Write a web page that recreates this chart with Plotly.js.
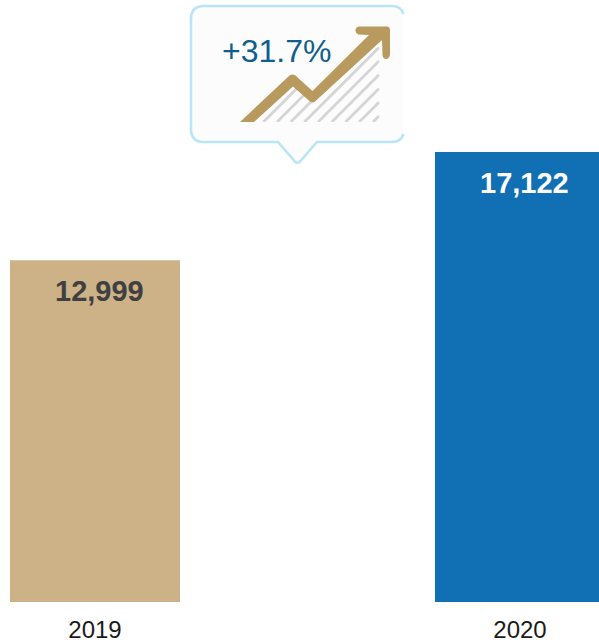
<!DOCTYPE html>
<html><head><meta charset="utf-8">
<script src="https://cdn.plot.ly/plotly-3.0.1.min.js"></script>
<style>html,body{margin:0;padding:0;background:#fff;overflow:hidden}</style>
</head><body><div id="chart" style="width:599px;height:643px"></div>
<script>
const categories = ['2019', '2020'];
const values = [12999, 17122];
const valueLabels = ['12,999', '17,122'];
const barColors = ['#cdb187', '#116fb4'];
const labelColors = ['#404040', '#ffffff'];
const changeLabel = '+31.7%';

const W = 599, H = 602;
const px = (x, y) => (x / W).toFixed(5) + ',' + (1 - y / H).toFixed(5);
const poly = pts => pts.map(p => p[0] + px(p[1], p[2])).join(' ');
const pshape = (path, fill, line, width) => ({
  type: 'path', xref: 'paper', yref: 'paper', layer: 'above', path,
  fillcolor: fill, line: { color: line || 'rgba(0,0,0,0)', width: width || 0 }
});

const shapes = [];
// callout body (open at the right, where the source crops it)
const start = [['M',403.5,134],['Q',401,142],[' ',392,142]];
const outline = [['L',317,142],['L',300,161.5],['Q',297.5,164],[' ',295,161.5],
  ['L',278,142],['L',204,142],['Q',191,142],[' ',191,129],['L',191,19],['Q',191,6],[' ',204,6],
  ['L',392,6],['Q',401,6],[' ',403.5,14]];
shapes.push(pshape(poly(start.concat(outline)) + ' Z', '#fcfcfc'));
shapes.push(pshape(poly(start.concat(outline)), 'rgba(0,0,0,0)', '#b9e5f8', 2.6));
// hatching under the arrow
for (let x0 = 249.6; x0 < 379; x0 += 13.7) {
  const c = x0 + 122;
  const yEnd = Math.max(c - 379, 40);
  shapes.push({ type: 'line', xref: 'paper', yref: 'paper', layer: 'above',
    x0: x0 / W, y0: 1 - 122 / H, x1: (c - yEnd) / W, y1: 1 - yEnd / H,
    line: { color: '#d5d5d5', width: 2.8 } });
}
// tidy-up: cover hatching outside the area under the arrow
shapes.push(pshape(poly([['M',225,122],['L',240,122],['L',292,77],['L',312.5,93],['L',379,30],['L',225,30]]) + ' Z', '#fcfcfc'));
shapes.push(pshape(poly([['M',225,122],['L',390,122],['L',390,130],['L',225,130]]) + ' Z', '#fcfcfc'));
shapes.push(pshape(poly([['M',379.6,40],['L',385,40],['L',385,122],['L',379.6,122]]) + ' Z', '#fcfcfc'));
// arrow
shapes.push(pshape(poly([
  ['M',240,122],['L',289.5,75.5],['Q',292.5,73.5],[' ',295.5,75.5],['L',312.5,91],['L',369,35],['L',358.5,34.5],
  ['Q',355,33],[' ',355.5,30],['Q',356,27],[' ',359,26.5],['L',387,26.5],['Q',390,27],[' ',390,30],['L',390,55],
  ['Q',389,59],[' ',386,59],['Q',383,59],[' ',382.5,55],['L',382,40],['L',315,101.5],['Q',312.5,103.5],[' ',310,101.5],
  ['L',293,86.5],['L',254,122]
]) + ' Z', '#b89a5f'));

const annotations = categories.map((c, i) => ({
  x: i, y: values[i], xref: 'x', yref: 'y', text: '<b>' + valueLabels[i] + '</b>',
  showarrow: false, xanchor: 'center', yanchor: 'middle', xshift: 4.5, yshift: -31,
  font: { family: 'Liberation Sans, Arial, sans-serif', size: 29, color: labelColors[i] }
}));
annotations.push({
  xref: 'paper', yref: 'paper', x: 276.5 / W, y: 1 - 51 / H, text: changeLabel, showarrow: false,
  xanchor: 'center', yanchor: 'middle',
  font: { family: 'Liberation Sans, Arial, sans-serif', size: 32, color: '#0f5e8e' }
});

Plotly.newPlot('chart', [{
  type: 'bar', x: categories, y: values, width: 0.4,
  marker: { color: barColors, line: { width: 0 } }, hoverinfo: 'skip'
}], {
  width: 599, height: 643, margin: { l: 0, r: 0, t: 0, b: 41, pad: 0 },
  paper_bgcolor: '#ffffff', plot_bgcolor: '#ffffff', showlegend: false,
  xaxis: { type: 'category', range: [-0.2235, 1.1859], showgrid: false, zeroline: false, showline: false, ticks: '',
    ticklabelstandoff: 11, tickfont: { family: 'Liberation Sans, Arial, sans-serif', size: 24, color: '#1a1a1a' } },
  yaxis: { range: [0, 22900], visible: false },
  shapes, annotations
}, { displayModeBar: false, staticPlot: true });
</script></body></html>
